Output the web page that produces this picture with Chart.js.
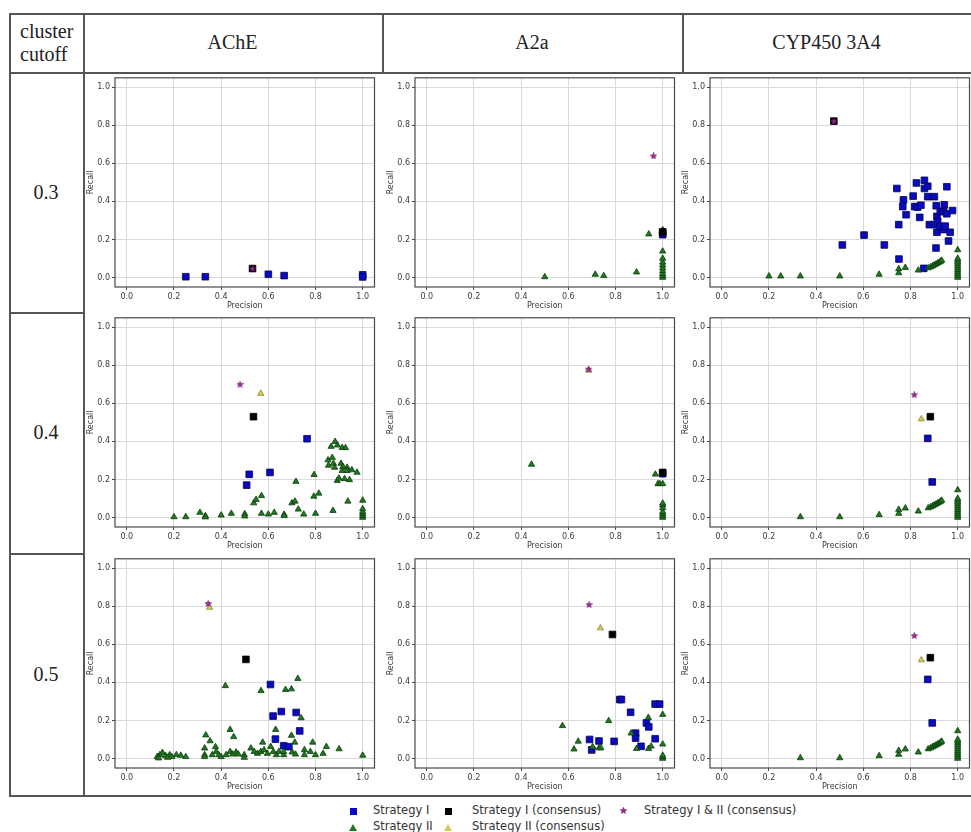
<!DOCTYPE html>
<html>
<head>
<meta charset="utf-8">
<script src="https://cdn.jsdelivr.net/npm/chart.js@4"></script>
<style>
  html, body { margin: 0; padding: 0; background: #fff; }
  body { width: 971px; height: 832px; overflow: hidden; position: relative; }
  .ln { position: absolute; background: #555; }
  .cell { position: absolute; font-family: "Liberation Serif", "Times New Roman", serif; font-size: 20px; color: #222;
          display: flex; align-items: center; justify-content: center; }
  canvas.panel { position: absolute; }
  .lg { position: absolute; font-family: "DejaVu Sans", sans-serif; font-size: 11.5px; color: #333; line-height: 14px; white-space: nowrap; }
  .sq { position: absolute; width: 7px; height: 7px; }
  .tri { position: absolute; width: 0; height: 0; border-left: 4px solid transparent; border-right: 4px solid transparent; }
</style>
</head>
<body>
<div id="root"></div>
<script>
// ---- data -------------------------------------------------------------
const targets = ['AChE', 'A2a', 'CYP450 3A4'];
const cutoffs = ['0.3', '0.4', '0.5'];
const tickValues = [0, 0.2, 0.4, 0.6, 0.8, 1.0];
const seriesNames = {
  s1: 'Strategy I', s2: 'Strategy II',
  c1: 'Strategy I (consensus)', c2: 'Strategy II (consensus)',
  c12: 'Strategy I & II (consensus)'
};

// AChE, cutoff 0.3
const ache03_s1 = [[0.25,0.004],[0.333,0.004],[0.6,0.017],[0.667,0.01],[1.0,0.014],[1.0,0.003]];
const ache03_s2 = [];
const ache03_c1 = [[0.533,0.047]];
const ache03_c2 = [[0.533,0.047]];
const ache03_c12 = [[0.533,0.047]];

// A2a, cutoff 0.3
const a2a03_s1 = [[1.0,0.225],[1.0,0.235]];
const a2a03_s2 = [[0.5,0.003],[0.714,0.016],[0.75,0.009],[0.889,0.028],[0.941,0.228],[1.0,0.0],[1.0,0.01],
  [1.0,0.02],[1.0,0.035],[1.0,0.05],[1.0,0.065],[1.0,0.08],[1.0,0.1],[1.0,0.138],[1.0,0.25]];
const a2a03_c1 = [[1.0,0.24]];
const a2a03_c2 = [[1.0,0.24]];
const a2a03_c12 = [[0.961,0.639]];

// CYP450 3A4, cutoff 0.3
const cyp03_s1 = [[0.742,0.468],[0.77,0.408],[0.767,0.373],[0.781,0.33],[0.75,0.278],[0.811,0.428],[0.818,0.373],
  [0.825,0.497],[0.839,0.316],[0.83,0.37],[0.844,0.38],[0.859,0.511],[0.859,0.468],[0.873,0.48],[0.873,0.425],
  [0.88,0.278],[0.901,0.425],[0.901,0.278],[0.909,0.377],[0.912,0.321],[0.915,0.295],[0.912,0.238],[0.926,0.347],
  [0.926,0.269],[0.94,0.347],[0.943,0.382],[0.94,0.252],[0.954,0.477],[0.954,0.335],[0.947,0.27],[0.968,0.238],
  [0.961,0.192],[0.978,0.352],[0.908,0.155],[0.603,0.223],[0.511,0.171],[0.689,0.171],[0.751,0.097],[0.856,0.048]];
const cyp03_s2 = [[0.2,0.007],[0.25,0.007],[0.333,0.007],[0.5,0.007],[0.667,0.016],[0.75,0.024],[0.75,0.045],
  [0.778,0.052],[0.833,0.038],[0.875,0.05],[0.885,0.055],[0.893,0.06],[0.9,0.065],[0.908,0.07],[0.915,0.075],
  [0.922,0.08],[0.928,0.085],[0.932,0.09],[1.0,0.0],[1.0,0.01],[1.0,0.02],[1.0,0.03],[1.0,0.04],[1.0,0.05],
  [1.0,0.06],[1.0,0.07],[1.0,0.08],[1.0,0.09],[1.0,0.1],[1.0,0.145]];
const cyp03_c1 = [[0.475,0.822]];
const cyp03_c2 = [[0.475,0.822]];
const cyp03_c12 = [[0.475,0.822]];

// AChE, cutoff 0.4
const ache04_s1 = [[0.764,0.414],[0.607,0.237],[0.519,0.227],[0.508,0.17]];
const ache04_s2 = [[0.2,0.003],[0.25,0.003],[0.31,0.026],[0.333,0.009],[0.333,0.002],[0.4,0.012],[0.443,0.021],
  [0.5,0.019],[0.5,0.007],[0.538,0.076],[0.548,0.094],[0.571,0.114],[0.571,0.021],[0.6,0.017],[0.625,0.026],
  [0.667,0.016],[0.667,0.009],[0.7,0.076],[0.713,0.085],[0.717,0.189],[0.727,0.043],[0.75,0.017],[0.794,0.225],
  [0.793,0.111],[0.8,0.021],[0.814,0.127],[0.874,0.036],[0.937,0.085],[1.0,0.09],[1.0,0.0],[1.0,0.01],[1.0,0.02],
  [1.0,0.03],[1.0,0.045],[0.883,0.399],[0.866,0.373],[0.893,0.38],[0.913,0.367],[0.927,0.366],[0.853,0.302],
  [0.871,0.315],[0.855,0.274],[0.876,0.284],[0.881,0.263],[0.908,0.284],[0.916,0.267],[0.913,0.246],[0.934,0.263],
  [0.934,0.246],[0.954,0.25],[0.976,0.237],[0.923,0.203],[0.892,0.194],[0.899,0.206],[0.944,0.198]];
const ache04_c1 = [[0.537,0.53]];
const ache04_c2 = [[0.568,0.652]];
const ache04_c12 = [[0.48,0.7]];

// A2a, cutoff 0.4
const a2a04_s1 = [[1.0,0.23]];
const a2a04_s2 = [[0.444,0.279],[0.969,0.227],[0.98,0.177],[0.988,0.177],[1.0,0.177],[1.0,0.0],[1.0,0.01],
  [1.0,0.02],[1.0,0.03],[1.0,0.05],[1.0,0.065],[1.0,0.075]];
const a2a04_c1 = [[1.0,0.237]];
const a2a04_c2 = [[0.686,0.775]];
const a2a04_c12 = [[0.686,0.78]];

// CYP450 3A4, cutoff 0.4 (cutoff 0.5 shows the same values)
const cyp04_s1 = [[0.873,0.416],[0.892,0.187]];
const cyp04_s2 = [[0.333,0.003],[0.5,0.003],[0.667,0.014],[0.75,0.021],[0.75,0.042],[0.778,0.049],[0.833,0.033],
  [0.875,0.05],[0.885,0.055],[0.893,0.06],[0.9,0.065],[0.908,0.07],[0.915,0.075],[0.922,0.08],[0.928,0.085],
  [0.932,0.09],[1.0,0.0],[1.0,0.01],[1.0,0.02],[1.0,0.03],[1.0,0.04],[1.0,0.05],[1.0,0.06],[1.0,0.07],
  [1.0,0.08],[1.0,0.09],[1.0,0.1],[1.0,0.145]];
const cyp04_c1 = [[0.884,0.53]];
const cyp04_c2 = [[0.846,0.518]];
const cyp04_c12 = [[0.816,0.646]];

// AChE, cutoff 0.5
const ache05_s1 = [[0.609,0.389],[0.655,0.247],[0.62,0.223],[0.718,0.242],[0.733,0.145],[0.63,0.102],
  [0.665,0.067],[0.687,0.062]];
const ache05_s2 = [[0.418,0.382],[0.569,0.356],[0.673,0.362],[0.698,0.365],[0.725,0.42],[0.739,0.213],
  [0.438,0.152],[0.453,0.114],[0.335,0.123],[0.353,0.092],[0.376,0.061],[0.576,0.085],[0.631,0.152],[0.698,0.121],
  [0.712,0.085],[0.788,0.085],[0.846,0.062],[0.9,0.05],[0.832,0.026],[0.8,0.019],[0.778,0.036],[0.753,0.045],
  [0.753,0.019],[1.0,0.016],[0.701,0.033],[0.715,0.022],
  [0.129,0.009],[0.14,0.019],[0.151,0.031],[0.165,0.014],[0.182,0.019],[0.191,0.009],[0.21,0.019],[0.229,0.016],
  [0.25,0.009],[0.135,0.002],[0.173,0.005],
  [0.33,0.054],[0.33,0.019],[0.33,0.009],[0.362,0.019],[0.379,0.036],[0.39,0.019],[0.4,0.009],[0.421,0.019],
  [0.438,0.036],[0.449,0.022],[0.463,0.033],[0.473,0.022],[0.498,0.019],[0.498,0.005],[0.526,0.054],[0.54,0.036],
  [0.554,0.026],[0.568,0.036],[0.582,0.045],[0.596,0.026],[0.61,0.062],[0.621,0.036],[0.634,0.019],[0.645,0.036],
  [0.665,0.019],[0.665,0.036]];
const ache05_c1 = [[0.505,0.521]];
const ache05_c2 = [[0.351,0.794]];
const ache05_c12 = [[0.345,0.815]];

// A2a, cutoff 0.5
const a2a05_s1 = [[0.818,0.31],[0.825,0.31],[0.864,0.243],[0.968,0.286],[0.987,0.286],[0.931,0.187],[0.941,0.166],
  [0.885,0.133],[0.885,0.107],[0.968,0.104],[0.69,0.1],[0.73,0.092],[0.794,0.09],[0.699,0.045],[0.908,0.064]];
const a2a05_s2 = [[0.575,0.172],[0.642,0.09],[0.624,0.049],[0.703,0.061],[0.73,0.055],[0.738,0.055],[0.771,0.198],
  [0.866,0.133],[0.889,0.052],[0.939,0.215],[0.94,0.052],[0.951,0.064],[1.0,0.231],[1.0,0.075],[1.0,0.0],
  [1.0,0.008],[1.0,0.016]];
const a2a05_c1 = [[0.787,0.652]];
const a2a05_c2 = [[0.736,0.686]];
const a2a05_c12 = [[0.688,0.809]];

const panels = [
  [ {s1: ache03_s1, s2: ache03_s2, c1: ache03_c1, c2: ache03_c2, c12: ache03_c12},
    {s1: a2a03_s1, s2: a2a03_s2, c1: a2a03_c1, c2: a2a03_c2, c12: a2a03_c12},
    {s1: cyp03_s1, s2: cyp03_s2, c1: cyp03_c1, c2: cyp03_c2, c12: cyp03_c12} ],
  [ {s1: ache04_s1, s2: ache04_s2, c1: ache04_c1, c2: ache04_c2, c12: ache04_c12},
    {s1: a2a04_s1, s2: a2a04_s2, c1: a2a04_c1, c2: a2a04_c2, c12: a2a04_c12},
    {s1: cyp04_s1, s2: cyp04_s2, c1: cyp04_c1, c2: cyp04_c2, c12: cyp04_c12} ],
  [ {s1: ache05_s1, s2: ache05_s2, c1: ache05_c1, c2: ache05_c2, c12: ache05_c12},
    {s1: a2a05_s1, s2: a2a05_s2, c1: a2a05_c1, c2: a2a05_c2, c12: a2a05_c12},
    {s1: cyp04_s1, s2: cyp04_s2, c1: cyp04_c1, c2: cyp04_c2, c12: cyp04_c12} ]
];

// ---- layout -----------------------------------------------------------
const root = document.getElementById('root');
function line(x, y, w, h) {
  const d = document.createElement('div');
  d.className = 'ln';
  Object.assign(d.style, { left: x + 'px', top: y + 'px', width: w + 'px', height: h + 'px' });
  root.appendChild(d);
}
function cell(x, y, w, h, html, extra) {
  const d = document.createElement('div');
  d.className = 'cell';
  Object.assign(d.style, { left: x + 'px', top: y + 'px', width: w + 'px', height: h + 'px' }, extra || {});
  d.innerHTML = html;
  root.appendChild(d);
}

const rowY = [72, 312, 553, 795];
const colX = [83, 382, 682, 971];
// table rules
line(9, 13, 962, 1.5); line(9, 72, 962, 1.5); line(9, 795, 962, 1.5);
line(9, 312, 74, 1.5); line(9, 553, 74, 1.5);
line(9, 13, 1.5, 783); line(83, 13, 1.5, 783);
line(382, 13, 1.5, 59); line(682, 13, 1.5, 59);

cell(9, 13, 74, 59, 'cluster<br>cutoff', { justifyContent: 'flex-start', paddingLeft: '11px', lineHeight: '23px', boxSizing: 'border-box' });
targets.forEach((t, i) => cell(colX[i], 13, colX[i + 1] - colX[i], 59, t));
cutoffs.forEach((c, i) => cell(9, rowY[i], 74, rowY[i + 1] - rowY[i], c));

// ---- charts -----------------------------------------------------------
function starImage() {
  const c = document.createElement('canvas');
  c.width = 7; c.height = 7;
  const g = c.getContext('2d');
  g.beginPath();
  for (let i = 0; i < 10; i++) {
    const r = i % 2 ? 1.5 : 3.4;
    const a = -Math.PI / 2 + i * Math.PI / 5;
    g.lineTo(3.5 + r * Math.cos(a), 3.7 + r * Math.sin(a));
  }
  g.closePath();
  g.fillStyle = '#a3259a';
  g.fill();
  g.strokeStyle = '#5a1050';
  g.lineWidth = 0.5;
  g.stroke();
  return c;
}
const star = starImage();

const styles = {
  s1: { pointStyle: 'rect', pointRadius: 4.7, backgroundColor: '#0a0ac4', borderColor: '#04044a', borderWidth: 0.8 },
  s2: { pointStyle: 'triangle', pointRadius: 3.6, backgroundColor: '#1f7a1f', borderColor: '#0b3a0b', borderWidth: 0.8 },
  c1: { pointStyle: 'rect', pointRadius: 4.7, backgroundColor: '#000', borderColor: '#000', borderWidth: 0.8 },
  c2: { pointStyle: 'triangle', pointRadius: 3.6, backgroundColor: '#d6cd58', borderColor: '#8a8430', borderWidth: 0.8 },
  c12: { pointStyle: star, pointRadius: 3.5, backgroundColor: '#a3259a', borderColor: '#5a1050', borderWidth: 0 }
};
const drawOrder = ['c12', 'c1', 'c2', 's2', 's1']; // first = on top

const frame = {
  id: 'frame',
  afterDatasetsDraw(chart) {
    const { ctx, chartArea: a } = chart;
    ctx.save();
    ctx.strokeStyle = '#4a4a4a';
    ctx.lineWidth = 1.2;
    ctx.strokeRect(a.left, a.top, a.right - a.left, a.bottom - a.top);
    ctx.restore();
  }
};

const tickFont = { family: 'DejaVu Sans', size: 8 };
const plotLeft = [115, 415, 710];
const plotTop = [75, 315, 556];
const plotW = 263, plotH = 212;

function axis(isX) {
  return {
    type: 'linear', min: -0.05, max: 1.05,
    afterBuildTicks: s => { s.ticks = tickValues.map(v => ({ value: v })); },
    afterFit: s => { if (isX) s.height = 24; else s.width = 34; },
    ticks: { callback: v => v.toFixed(1), font: tickFont, color: '#3a3a3a', padding: 2, maxRotation: 0, autoSkip: false },
    grid: { color: '#d9d9d9', lineWidth: 1, tickColor: '#4a4a4a', tickLength: 3 },
    border: { display: false },
    title: { display: true, text: isX ? 'Precision' : 'Recall', font: tickFont, color: '#3a3a3a',
             padding: isX ? 0 : { top: 5, bottom: 0 } }
  };
}

panels.forEach((row, r) => row.forEach((p, c) => {
  const cv = document.createElement('canvas');
  cv.className = 'panel';
  cv.width = 34 + plotW + 2;
  cv.height = 4 + plotH + 24;
  cv.style.left = (plotLeft[c] - 34) + 'px';
  cv.style.top = (plotTop[r] - 4) + 'px';
  root.appendChild(cv);
  new Chart(cv, {
    type: 'scatter',
    data: {
      datasets: drawOrder.map(k => Object.assign({
        label: seriesNames[k],
        data: p[k].map(([x, y]) => ({ x, y }))
      }, styles[k]))
    },
    options: {
      responsive: false, animation: false, events: [],
      layout: { padding: { top: 4, right: 2, left: 0, bottom: 0 } },
      plugins: { legend: { display: false }, tooltip: { enabled: false } },
      scales: { x: axis(true), y: axis(false) }
    },
    plugins: [frame]
  });
}));

// ---- legend -----------------------------------------------------------
function lgText(x, cy, t) {
  const d = document.createElement('div');
  d.className = 'lg';
  d.style.left = x + 'px'; d.style.top = (cy - 7) + 'px';
  d.textContent = t;
  root.appendChild(d);
}
function lgSquare(cx, cy, col) {
  const d = document.createElement('div');
  d.className = 'sq';
  Object.assign(d.style, { left: (cx - 3.5) + 'px', top: (cy - 3.5) + 'px', background: col });
  root.appendChild(d);
}
function lgTri(cx, cy, col) {
  const d = document.createElement('div');
  d.className = 'tri';
  Object.assign(d.style, { left: (cx - 4) + 'px', top: (cy - 3.5) + 'px', borderBottom: '7px solid ' + col });
  root.appendChild(d);
}
lgSquare(353, 811, styles.s1.backgroundColor); lgText(373, 810, seriesNames.s1);
lgTri(353, 827, styles.s2.backgroundColor);    lgText(373, 826, seriesNames.s2);
lgSquare(448, 811, '#000');                    lgText(472, 810, seriesNames.c1);
lgTri(448, 827, styles.c2.backgroundColor);    lgText(472, 826, seriesNames.c2);
const st = document.createElement('canvas');
st.width = 7; st.height = 7;
st.style.cssText = 'position:absolute;left:620px;top:807px;';
st.getContext('2d').drawImage(star, 0, 0);
root.appendChild(st);
lgText(644, 810, seriesNames.c12);
</script>
</body>
</html>
